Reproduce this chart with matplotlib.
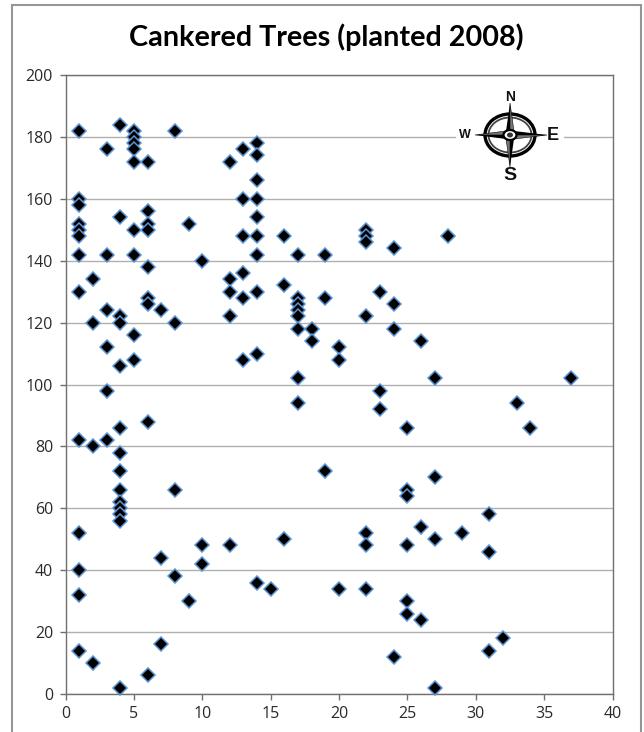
import numpy as np
import matplotlib
matplotlib.use("Agg")
import matplotlib.pyplot as plt
from matplotlib.patches import Rectangle, Polygon, Ellipse

title = "Cankered Trees (planted 2008)"
x_ticks = [0, 5, 10, 15, 20, 25, 30, 35, 40]
y_ticks = [0, 20, 40, 60, 80, 100, 120, 140, 160, 180, 200]

col_x = [1, 2, 3, 4, 5, 6, 7, 8, 9, 10, 12, 13, 14, 15, 16, 17, 18, 19, 20, 22,
         23, 24, 25, 26, 27, 28, 29, 31, 32, 33, 34, 37]
col_y = [
    [182, 160, 158, 152, 150, 148, 142, 130, 82, 52, 40, 32, 14],
    [134, 120, 80, 10],
    [176, 142, 124, 112, 98, 82],
    [184, 154, 122, 120, 106, 86, 78, 72, 66, 62, 60, 58, 56, 2],
    [182, 180, 178, 176, 172, 150, 142, 116, 108],
    [172, 156, 152, 150, 138, 128, 126, 88, 6],
    [124, 44, 16],
    [182, 120, 66, 38],
    [152, 30],
    [140, 48, 42],
    [172, 134, 130, 122, 48],
    [176, 160, 148, 136, 128, 108],
    [178, 174, 166, 160, 154, 148, 142, 130, 110, 36],
    [34],
    [148, 132, 50],
    [142, 128, 126, 124, 122, 118, 102, 94],
    [118, 114],
    [142, 128, 72],
    [112, 108, 34],
    [150, 148, 146, 122, 52, 48, 34],
    [130, 98, 92],
    [144, 126, 118, 12],
    [86, 66, 64, 48, 30, 26],
    [114, 54, 24],
    [102, 70, 50, 2],
    [148],
    [52],
    [58, 46, 14],
    [18],
    [94],
    [86],
    [102],
]

W, H = 644, 732
plt.rcParams['font.family'] = ['Open Sans', 'DejaVu Sans']
fig = plt.figure(figsize=(W / 100, H / 100), dpi=100, facecolor='white')

# outer chart border (open at the bottom of the picture)
fig.add_artist(Rectangle((11.5 / W, -0.02), (640.5 - 11.5) / W, 1 - 4.5 / H + 0.02,
                         transform=fig.transFigure, fill=False,
                         edgecolor='#969696', linewidth=1.5))

left, right, top, bottom = 65.5, 612.5, 75, 694
ax = fig.add_axes([left / W, 1 - bottom / H, (right - left) / W, (bottom - top) / H])
ax.set_xlim(0, 40)
ax.set_ylim(0, 200)
ax.set_xticks(x_ticks)
ax.set_yticks(y_ticks)
ax.grid(axis='y', color='#b0b0b0', linewidth=1)
ax.set_axisbelow(True)
for s in ('top', 'right', 'left', 'bottom'):
    ax.spines[s].set_color('#707070')
    ax.spines[s].set_linewidth(1)
ax.tick_params(axis='both', length=4, width=1, color='#707070', labelsize=11.5,
               labelcolor='#2a2a2a', pad=5)

for cx, ys in zip(col_x, col_y):
    ax.plot([cx] * len(ys), ys, linestyle='none', marker='D', markersize=7.6,
            markerfacecolor='black', markeredgecolor='#5b93d3', markeredgewidth=1.1,
            clip_on=False, zorder=3)

fig.text(326 / W, 1 - 37 / H, title, ha='center', va='center', fontsize=20.7,
         fontweight='bold', family=['Lato', 'DejaVu Sans'], color='black')

# compass rose inset
cx_px, cy_px, half = 510, 135, 54
cax = fig.add_axes([(cx_px - half) / W, 1 - (cy_px + half) / H, 2 * half / W, 2 * half / H])
cax.set_xlim(-half, half)
cax.set_ylim(-half, half)
cax.axis('off')
cax.patch.set_visible(False)
cax.add_patch(Rectangle((-half, -half + 8), 2 * half, 2 * half - 16, facecolor='white',
                        edgecolor='none', zorder=1))
cax.add_patch(Ellipse((0, 0), 50, 42, fill=False, edgecolor='black', linewidth=2.4, zorder=2))
cax.add_patch(Ellipse((0, 0), 43, 35, fill=False, edgecolor='#444444', linewidth=1.3, zorder=2))
for dx, dy, L in [(0, 1, 32), (0, -1, 32), (1, 0, 37), (-1, 0, 35)]:
    px, py = -dy, dx
    w = 4.5
    cax.add_patch(Polygon([(dx * L, dy * L), (px * w, py * w), (0, 0)],
                          facecolor='black', edgecolor='none', zorder=3))
    cax.add_patch(Polygon([(dx * L, dy * L), (-px * w, -py * w), (0, 0)],
                          facecolor='#777777', edgecolor='black', linewidth=0.4, zorder=3))
cax.add_patch(Ellipse((0, 0), 13, 10, facecolor='white', edgecolor='black', linewidth=1.6, zorder=4))
cax.add_patch(Ellipse((0, 0), 6, 5, facecolor='#333333', edgecolor='none', zorder=5))
for lab, tx, ty, fs in [('N', 0, 38, 10), ('S', 0, -41, 14), ('E', 43, 0, 13), ('W', -45, 0, 9)]:
    cax.text(tx, ty, lab, ha='center', va='center', fontsize=fs, fontweight='bold',
             family=['Liberation Sans', 'DejaVu Sans'], color='#111111', zorder=6, clip_on=False)

fig.savefig('out.png', dpi=100)
